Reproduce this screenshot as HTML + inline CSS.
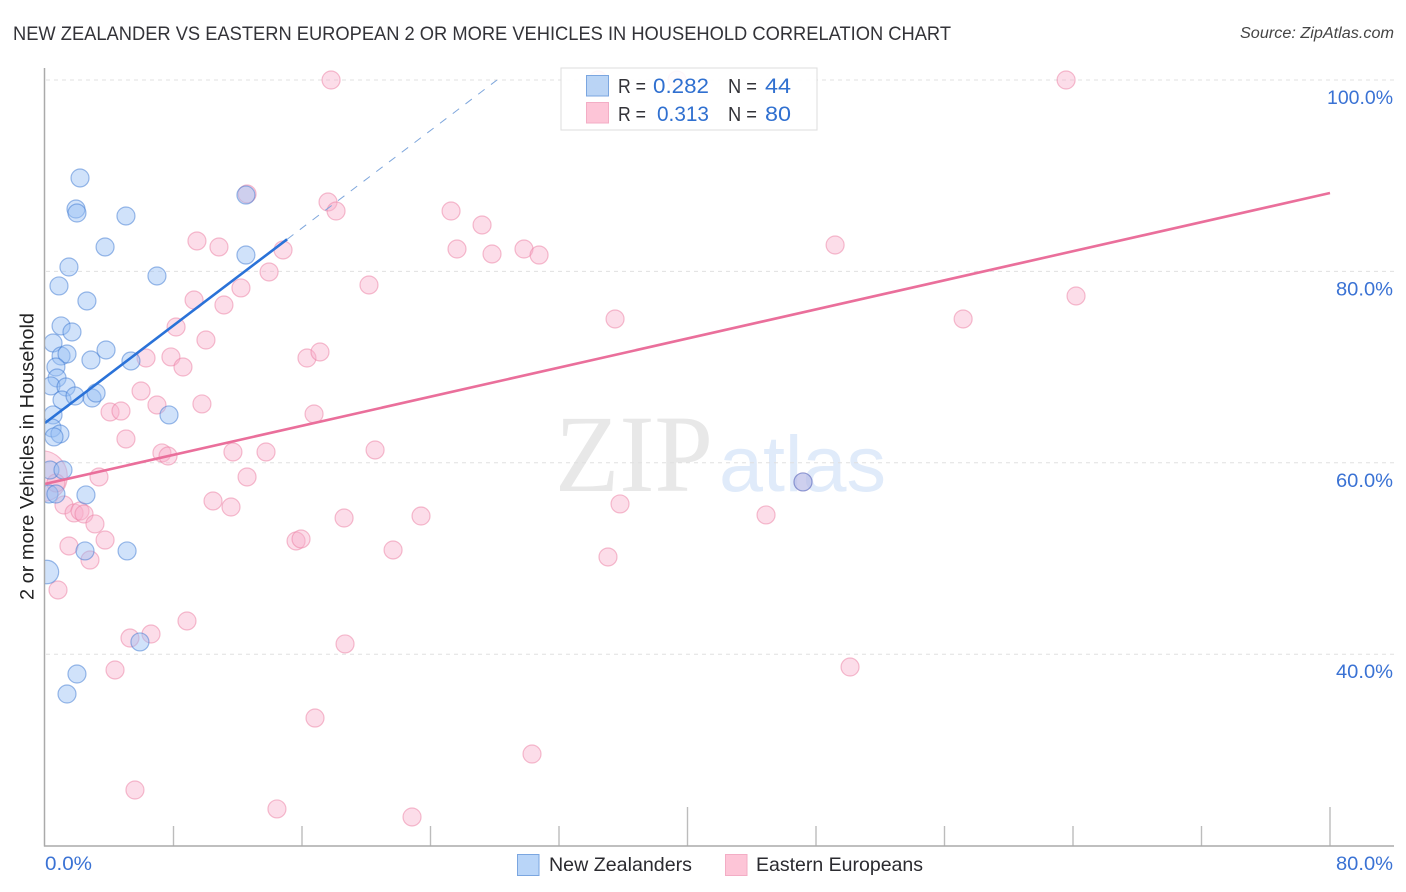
<!DOCTYPE html>
<html lang="en">
<head>
<meta charset="utf-8">
<title>New Zealander vs Eastern European 2 or More Vehicles in Household Correlation Chart</title>
<style>
html,body{margin:0;padding:0;background:#fff;}
svg{display:block;font-family:"Liberation Sans",sans-serif;}
</style>
</head>
<body>
<svg id="chart" xmlns="http://www.w3.org/2000/svg" width="1406" height="892" viewBox="0 0 1406 892">
  <defs>
    <clipPath id="plot-clip"><rect x="45" y="60" width="1349" height="786"/></clipPath>
  </defs>
  <rect x="0" y="0" width="1406" height="892" fill="#ffffff"/>
  <text x="13" y="40" font-size="19.5" fill="#333338" textLength="938" lengthAdjust="spacingAndGlyphs">NEW ZEALANDER VS EASTERN EUROPEAN 2 OR MORE VEHICLES IN HOUSEHOLD CORRELATION CHART</text>
  <text x="1394" y="38" font-size="15.5" font-style="italic" fill="#444" text-anchor="end" textLength="154" lengthAdjust="spacingAndGlyphs">Source: ZipAtlas.com</text>
  <g>
    <text x="555" y="491" font-family="'Liberation Serif',serif" font-size="110" fill="#e8e8e8" textLength="158" lengthAdjust="spacingAndGlyphs">ZIP</text>
    <text x="719" y="491" font-size="79" fill="#e0ebfa" textLength="167" lengthAdjust="spacingAndGlyphs">atlas</text>
  </g>
  <g id="grid"></g>
  <g id="pink-points" clip-path="url(#plot-clip)"></g>
  <g id="blue-points" clip-path="url(#plot-clip)"></g>
  <g id="trends"></g>
  <g id="axes"></g>
  <text transform="translate(33.5,456.5) rotate(-90)" font-size="19.5" fill="#222" text-anchor="middle" textLength="287" lengthAdjust="spacingAndGlyphs">2 or more Vehicles in Household</text>

  <g>
    <rect x="561" y="68" width="256" height="62" fill="#ffffff" fill-opacity="0.88" stroke="#dddddd" stroke-width="1"/>
    <rect x="586.5" y="75.5" width="22" height="20.5" fill="#b3cff4" fill-opacity="0.9" stroke="#7ba6e0" stroke-width="1"/>
    <rect x="586.5" y="102.5" width="22" height="20.5" fill="#fdc5d7" stroke="#f3adc5" stroke-width="1"/>
    <text x="618" y="93" font-size="20" fill="#333338" textLength="28" lengthAdjust="spacingAndGlyphs">R =</text>
    <text x="653" y="93" font-size="21" fill="#3070d0" textLength="56" lengthAdjust="spacingAndGlyphs">0.282</text>
    <text x="728" y="93" font-size="20" fill="#333338" textLength="29" lengthAdjust="spacingAndGlyphs">N =</text>
    <text x="765" y="93" font-size="21" fill="#3070d0" textLength="26" lengthAdjust="spacingAndGlyphs">44</text>
    <text x="618" y="121" font-size="20" fill="#333338" textLength="28" lengthAdjust="spacingAndGlyphs">R =</text>
    <text x="657" y="121" font-size="21" fill="#3070d0" textLength="52" lengthAdjust="spacingAndGlyphs">0.313</text>
    <text x="728" y="121" font-size="20" fill="#333338" textLength="29" lengthAdjust="spacingAndGlyphs">N =</text>
    <text x="765" y="121" font-size="21" fill="#3070d0" textLength="26" lengthAdjust="spacingAndGlyphs">80</text>
  </g>

  <g>
    <rect x="517.5" y="854.5" width="21.5" height="21" fill="#b9d5f8" stroke="#7ba6e0" stroke-width="1"/>
    <text x="549" y="871" font-size="19.5" fill="#2b2b30" textLength="143" lengthAdjust="spacingAndGlyphs">New Zealanders</text>
    <rect x="725.5" y="854.5" width="21.5" height="21" fill="#fdc5d7" stroke="#f3adc5" stroke-width="1"/>
    <text x="756" y="871" font-size="19.5" fill="#2b2b30" textLength="167" lengthAdjust="spacingAndGlyphs">Eastern Europeans</text>
  </g>
</svg>
<script>
// Chart data (percent units)
const yTickValues = [100, 80, 60, 40];
const yTickLabels = ["100.0%", "80.0%", "60.0%", "40.0%"];
const xTickValues = [0, 8, 16, 24, 32, 40, 48, 56, 64, 72, 80];
const xMajorTicks = [0, 40, 80];
const xEndLabels = ["0.0%", "80.0%"];

const nzX = [2.18,1.93,1.99,5.04,3.74,12.51,12.51,1.49,6.97,0.87,2.61,1.00,1.68,0.50,1.00,1.37,2.86,3.80,5.35,0.68,0.75,0.37,1.31,1.06,1.87,2.93,3.18,7.72,0.50,0.44,0.93,0.56,0.31,1.12,0.25,0.68,2.55,2.49,5.11,0.12,5.91,1.99,1.37,47.19];
const nzY = [89.76,86.52,86.10,85.79,82.55,87.98,81.71,80.46,79.52,78.48,76.91,74.30,73.67,72.52,71.16,71.37,70.74,71.79,70.64,70.01,68.86,68.03,67.92,66.56,66.98,66.77,67.29,65.00,65.00,63.64,63.01,62.70,59.25,59.25,56.74,56.74,56.64,50.79,50.79,48.59,41.28,37.93,35.84,58.00];
const nzWeight = [1,1,1,1,1,1,1,1,1,1,1,1,1,1,1,1,1,1,1,1,1,1,1,1,1,1,1,1,1,1,1,1,1,1,1,1,1,1,1,1.7,1,1,1,1];

const eeX = [17.81,63.57,34.43,39.35,12.58,17.62,18.12,25.28,27.21,9.46,10.83,14.82,25.65,27.83,29.82,30.76,49.19,13.95,12.20,20.17,9.28,11.14,64.19,35.49,57.16,8.16,10.02,6.29,7.84,8.59,16.31,17.12,5.98,6.97,9.77,4.05,4.73,16.75,5.04,7.28,7.66,11.70,13.76,20.55,12.58,3.36,47.19,-0.2,0.68,10.46,11.58,35.80,1.18,1.81,2.18,2.43,3.11,18.62,23.41,44.89,3.74,1.49,2.80,15.63,15.94,21.67,35.05,0.81,8.84,5.29,6.60,18.68,50.12,4.36,16.81,30.32,5.60,14.44,22.85];
const eeY = [100,100,100,100,88.09,87.25,86.31,86.31,84.85,83.18,82.55,82.24,82.34,81.82,82.34,81.71,82.76,79.94,78.27,78.58,77.01,76.49,77.43,75.03,75.03,74.19,72.83,70.95,71.06,70.01,70.95,71.58,67.50,66.04,66.15,65.31,65.41,65.10,62.49,61.03,60.71,61.13,61.13,61.34,58.52,58.52,58.00,58.60,57.89,56.01,55.38,55.70,55.59,54.76,54.96,54.65,53.61,54.23,54.44,54.55,51.93,51.31,49.84,51.83,52.04,50.89,50.16,46.71,43.47,41.69,42.11,41.07,38.66,38.35,33.33,29.57,25.81,23.83,22.99];
const eeWeight = [1,1,1,1,1,1,1,1,1,1,1,1,1,1,1,1,1,1,1,1,1,1,1,1,1,1,1,1,1,1,1,1,1,1,1,1,1,1,1,1,1,1,1,1,1,1,1,8,1,1,1,1,1,1,1,1,1,1,1,1,1,1,1,1,1,1,1,1,1,1,1,1,1,1,1,1,1,1,1];

const nzTrendX = [0, 15.07, 28.14];
const nzTrendY = [64.16, 83.35, 100];
const eeTrendX = [0, 80];
const eeTrendY = [57.79, 88.19];

// Axis functions
const xScale = v => 45 + v * 16.0625;
const yScale = v => 80 + (100 - v) * 9.57;
const rScale = w => 9 * Math.sqrt(w);
const NS = "http://www.w3.org/2000/svg";
function make(tag, parent, props) {
  const el = document.createElementNS(NS, tag);
  for (const k in props) el.setAttribute(k, props[k]);
  parent.appendChild(el);
  return el;
}

const grid = document.getElementById("grid");
const axes = document.getElementById("axes");

yTickValues.forEach((v, i) => {
  const line = make("line", grid, {x1: 46, x2: 1394, y1: yScale(v), y2: yScale(v), stroke: "#e0e0e0", "stroke-width": 1, "stroke-dasharray": "4 4"});
  
  
  const label = make("text", axes, {x: 1393, y: yScale(v) + 24, "font-size": 19.5, fill: "#3a72d4", "text-anchor": "end", textLength: v === 100 ? 66 : 57, lengthAdjust: "spacingAndGlyphs"});
  label.textContent = yTickLabels[i];
  
  
});

const baseY = 846;
xTickValues.forEach(v => {
  if (v === 0) return;
  const top = xMajorTicks.includes(v) ? 807 : 826;
  const tick = make("line", axes, {x1: xScale(v), x2: xScale(v), y1: top, y2: baseY, stroke: "#bcbcbc", "stroke-width": 1.4});
  
  
});

const yAxis = make("line", axes, {x1: 44.5, x2: 44.5, y1: 68, y2: 846.5, stroke: "#aaaaaa", "stroke-width": 1.5});


const xAxis = make("line", axes, {x1: 44, x2: 1394, y1: 846, y2: 846, stroke: "#aaaaaa", "stroke-width": 1.5});



const xLabelStart = make("text", axes, {x: 45, y: 870, "font-size": 19.5, fill: "#3a72d4", textLength: 47, lengthAdjust: "spacingAndGlyphs"});
xLabelStart.textContent = xEndLabels[0];


const xLabelEnd = make("text", axes, {x: 1393, y: 870, "font-size": 19.5, fill: "#3a72d4", "text-anchor": "end", textLength: 57, lengthAdjust: "spacingAndGlyphs"});
xLabelEnd.textContent = xEndLabels[1];



const pinkGroup = document.getElementById("pink-points");
eeX.forEach((x, i) => {
  const c = make("circle", pinkGroup, {cx: xScale(x), cy: yScale(eeY[i]), r: rScale(eeWeight[i]), fill: "rgba(248,175,202,0.42)", stroke: "rgba(236,125,162,0.5)", "stroke-width": 1.2});
  
  
});

const blueGroup = document.getElementById("blue-points");
nzX.forEach((x, i) => {
  const c = make("circle", blueGroup, {cx: xScale(x), cy: yScale(nzY[i]), r: rScale(nzWeight[i]), fill: "rgba(150,190,245,0.45)", stroke: "rgba(60,120,210,0.5)", "stroke-width": 1.2});
  
  
});

const trends = document.getElementById("trends");
const nzDash = make("line", trends, {x1: xScale(nzTrendX[1]), y1: yScale(nzTrendY[1]), x2: xScale(nzTrendX[2]), y2: yScale(nzTrendY[2]), stroke: "#7ea6dc", "stroke-width": 1, "stroke-dasharray": "8 8"});


const nzSolid = make("line", trends, {x1: xScale(nzTrendX[0]), y1: yScale(nzTrendY[0]), x2: xScale(nzTrendX[1]), y2: yScale(nzTrendY[1]), stroke: "#2a72d8", "stroke-width": 2.6});


const eeLine = make("line", trends, {x1: xScale(eeTrendX[0]), y1: yScale(eeTrendY[0]), x2: xScale(eeTrendX[1]), y2: yScale(eeTrendY[1]), stroke: "#ea6f9b", "stroke-width": 2.6});


</script>
</body>
</html>
